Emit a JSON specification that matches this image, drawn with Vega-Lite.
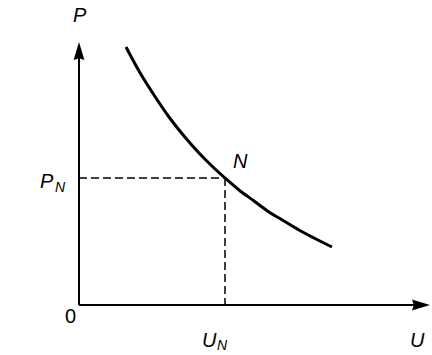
{
  "$schema": "https://vega.github.io/schema/vega-lite/v6.json",
  "width": 432,
  "height": 355,
  "autosize": {"type": "fit", "contains": "padding"},
  "padding": 0,
  "background": "white",
  "config": {"view": {"stroke": null}},
  "datasets": {
    "curve": [
      {"u": 47, "p": 258}, {"u": 60, "p": 234}, {"u": 75, "p": 210}, {"u": 90, "p": 188},
      {"u": 105, "p": 169}, {"u": 120, "p": 152}, {"u": 135, "p": 137}, {"u": 146, "p": 127},
      {"u": 160, "p": 115}, {"u": 175, "p": 104}, {"u": 190, "p": 93}, {"u": 205, "p": 84},
      {"u": 220, "p": 75}, {"u": 235, "p": 67}, {"u": 253, "p": 58}
    ],
    "axes": [
      {"seg": "y", "u": 0, "p": 0}, {"seg": "y", "u": 0, "p": 250},
      {"seg": "x", "u": 0, "p": 0}, {"seg": "x", "u": 340, "p": 0}
    ],
    "guides": [
      {"seg": "h", "u": 0, "p": 127}, {"seg": "h", "u": 146, "p": 127},
      {"seg": "v", "u": 146, "p": 127}, {"seg": "v", "u": 146, "p": 0}
    ],
    "headY": [{"u": 0, "p": 254}],
    "headX": [{"u": 342, "p": 0}],
    "labels": [
      {"t": "P", "u": -6, "p": 283},
      {"t": "P", "u": -39, "p": 117},
      {"t": "U", "u": 123, "p": -42},
      {"t": "U", "u": 331, "p": -42},
      {"t": "N", "u": 154, "p": 137}
    ],
    "subs": [
      {"t": "N", "u": -24, "p": 113},
      {"t": "N", "u": 138, "p": -45}
    ],
    "zero": [{"t": "0", "u": -14, "p": -18}]
  },
  "encoding": {
    "x": {"field": "u", "type": "quantitative", "scale": {"domain": [-79, 353], "nice": false, "zero": false}, "axis": null},
    "y": {"field": "p", "type": "quantitative", "scale": {"domain": [-50, 305], "nice": false, "zero": false}, "axis": null}
  },
  "layer": [
    {"data": {"name": "axes"}, "mark": {"type": "line", "color": "black", "strokeWidth": 2}, "encoding": {"detail": {"field": "seg"}}},
    {"data": {"name": "guides"}, "mark": {"type": "line", "color": "black", "strokeWidth": 1.5, "strokeDash": [8, 4]}, "encoding": {"detail": {"field": "seg"}}},
    {"data": {"name": "curve"}, "mark": {"type": "line", "color": "black", "strokeWidth": 3, "interpolate": "monotone"}},
    {"data": {"name": "headY"}, "mark": {"type": "point", "filled": true, "color": "black", "opacity": 1, "size": 324, "shape": "M0,-1L0.6,1L0,0.8L-0.6,1Z"}},
    {"data": {"name": "headX"}, "mark": {"type": "point", "filled": true, "color": "black", "opacity": 1, "size": 324, "shape": "M1,0L-1,0.6L-0.8,0L-1,-0.6Z"}},
    {"data": {"name": "labels"}, "mark": {"type": "text", "align": "left", "baseline": "alphabetic", "font": "Liberation Sans", "fontStyle": "italic", "fontSize": 20, "color": "black"}, "encoding": {"text": {"field": "t"}}},
    {"data": {"name": "subs"}, "mark": {"type": "text", "align": "left", "baseline": "alphabetic", "font": "Liberation Sans", "fontStyle": "italic", "fontSize": 14, "color": "black"}, "encoding": {"text": {"field": "t"}}},
    {"data": {"name": "zero"}, "mark": {"type": "text", "align": "left", "baseline": "alphabetic", "font": "Liberation Sans", "fontSize": 20, "color": "black"}, "encoding": {"text": {"field": "t"}}}
  ]
}
